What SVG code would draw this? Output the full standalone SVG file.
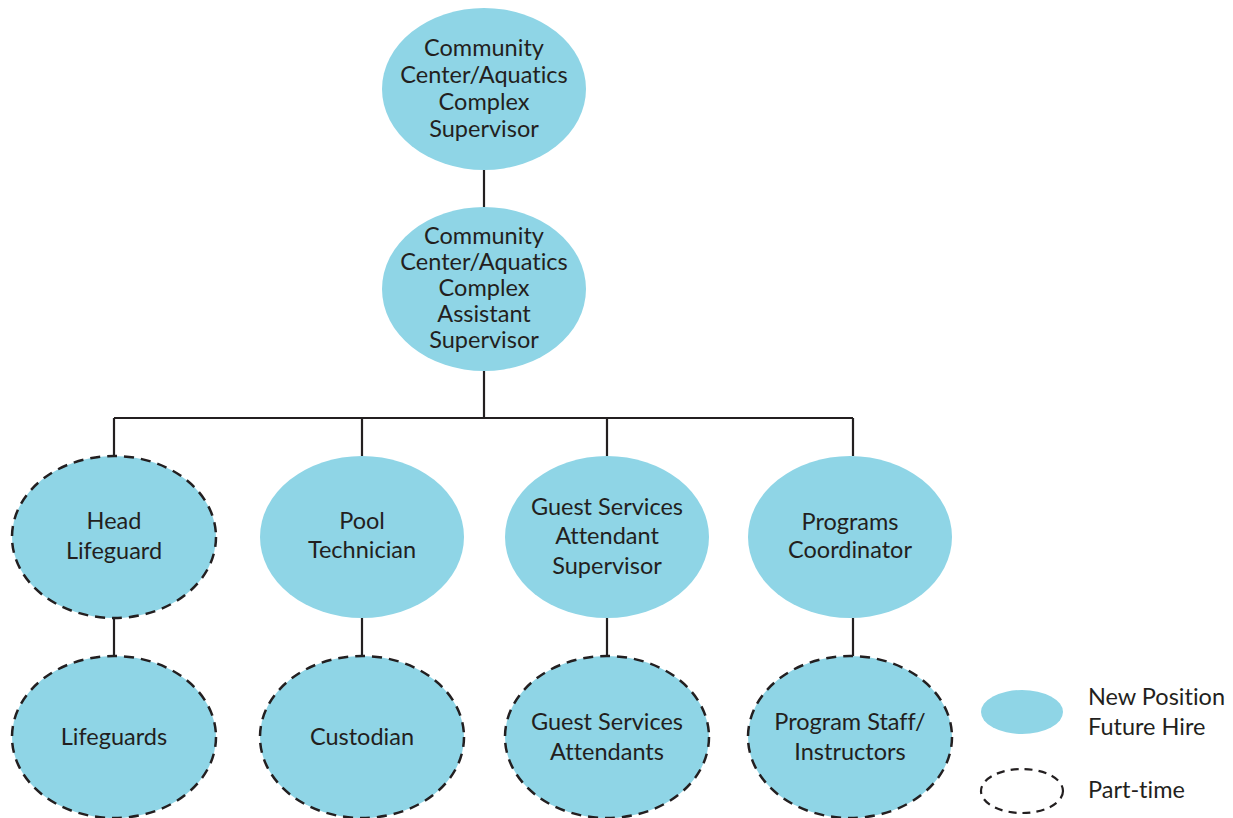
<svg xmlns="http://www.w3.org/2000/svg" width="1233" height="818" viewBox="0 0 1233 818">
<style>
.n{fill:#8fd5e6;stroke:none}
.pt{fill:#8fd5e6;stroke:#231f20;stroke-width:2.5;stroke-dasharray:10 7}
.lg{fill:none;stroke:#231f20;stroke-width:2.2;stroke-dasharray:8 6}
.c{fill:none;stroke:#231f20;stroke-width:2.2}
text{font-family:"Lato","Open Sans",sans-serif;font-size:23.5px;fill:#231f20;text-anchor:middle;font-variant-ligatures:none}
.l{text-anchor:start}
</style>
<rect width="1233" height="818" fill="#fff"/>
<g id="connectors">
<path class="c" d="M484 170V208M484 371V418M114 418H853M114 418V456M362 418V456M607 418V456M853 418V456M114 618V656M362 618V656M607 618V656M853 618V656"/>
</g>
<g id="supervisor">
<ellipse class="n" cx="484" cy="89" rx="102" ry="81"/>
<text x="484" y="56">Community</text><text x="484" y="83">Center/Aquatics</text><text x="484" y="110">Complex</text><text x="484" y="137">Supervisor</text>
</g>
<g id="assistant">
<ellipse class="n" cx="484" cy="289" rx="102" ry="82"/>
<text x="484" y="244">Community</text><text x="484" y="270">Center/Aquatics</text><text x="484" y="296">Complex</text><text x="484" y="322">Assistant</text><text x="484" y="348">Supervisor</text>
</g>
<g id="head-lifeguard">
<ellipse class="pt" cx="114" cy="537" rx="102" ry="81"/>
<text x="114" y="529">Head</text><text x="114" y="559">Lifeguard</text>
</g>
<g id="pool-technician">
<ellipse class="n" cx="362" cy="537" rx="102" ry="81"/>
<text x="362" y="529">Pool</text><text x="362" y="558">Technician</text>
</g>
<g id="guest-supervisor">
<ellipse class="n" cx="607" cy="537" rx="102" ry="81"/>
<text x="607" y="515">Guest Services</text><text x="607" y="544">Attendant</text><text x="607" y="574">Supervisor</text>
</g>
<g id="programs-coordinator">
<ellipse class="n" cx="850" cy="537" rx="102" ry="81"/>
<text x="850" y="530">Programs</text><text x="850" y="558">Coordinator</text>
</g>
<g id="lifeguards">
<ellipse class="pt" cx="114" cy="737" rx="102" ry="81"/>
<text x="114" y="745">Lifeguards</text>
</g>
<g id="custodian">
<ellipse class="pt" cx="362" cy="737" rx="102" ry="81"/>
<text x="362" y="745">Custodian</text>
</g>
<g id="guest-attendants">
<ellipse class="pt" cx="607" cy="737" rx="102" ry="81"/>
<text x="607" y="730">Guest Services</text><text x="607" y="760">Attendants</text>
</g>
<g id="program-staff">
<ellipse class="pt" cx="850" cy="737" rx="102" ry="81"/>
<text x="850" y="730">Program Staff/</text><text x="850" y="760">Instructors</text>
</g>
<g id="legend">
<ellipse class="n" cx="1022" cy="712" rx="41" ry="22"/>
<text class="l" x="1088" y="705">New Position</text><text class="l" x="1088" y="735">Future Hire</text>
<ellipse class="lg" cx="1022" cy="791" rx="41" ry="22"/>
<text class="l" x="1088" y="798">Part-time</text>
</g>
</svg>
